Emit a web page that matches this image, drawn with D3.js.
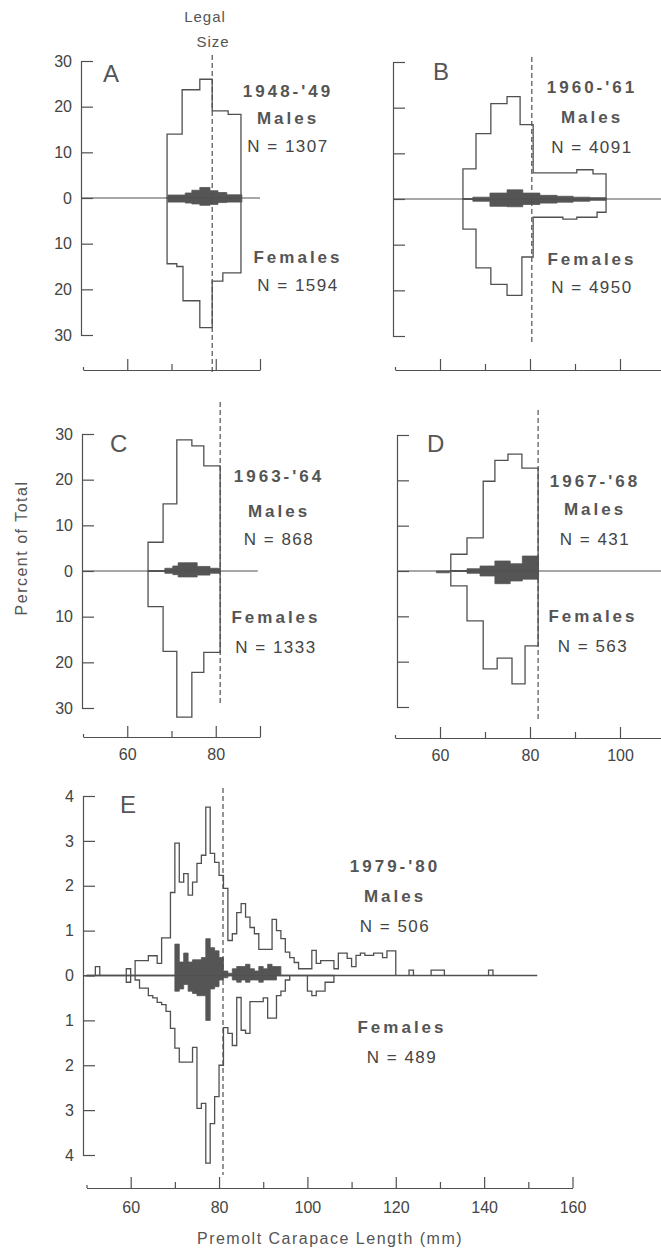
<!DOCTYPE html>
<html>
<head>
<meta charset="utf-8">
<script src="https://cdn.jsdelivr.net/npm/d3@7"></script>
<style>
  body { margin: 0; background: #fff; }
  text { font-family: "Liberation Sans", Arial, sans-serif; }
</style>
</head>
<body>
<svg id="chart" width="661" height="1259"></svg>
<script>
// percent of total per size class, males up / females down
// panel A 1948-49
const aMaleEdges = [69.0, 72.4, 76.4, 79.2, 82.8, 85.7]
const aMale = [14.0, 23.7, 26.0, 19.1, 18.3]
const aFemaleEdges = [69.0, 71.2, 72.6, 76.4, 79.2, 81.6, 85.7]
const aFemale = [14.4, 15.0, 22.5, 28.4, 18.2, 16.4]
const aShadeEdges = [69.2, 73.1, 74.6, 76.4, 78.7, 80.5, 82.5, 85.9]
const aShadeMale = [0.65, 1.1, 1.7, 2.3, 1.6, 1.2, 0.7]
const aShadeFemale = [0.9, 1.1, 1.3, 1.6, 1.4, 1.0, 0.9]

// panel B 1960-61
const bMaleEdges = [65.1, 68.0, 71.3, 74.9, 77.8, 80.7, 90.4, 94.0, 96.9]
const bMale = [6.6, 14.3, 20.9, 22.4, 16.3, 5.7, 6.4, 5.5]
const bFemaleEdges = [65.1, 68.0, 71.3, 74.9, 78.2, 80.7, 87.3, 90.4, 94.9, 96.9]
const bFemale = [6.6, 15.1, 18.7, 21.1, 12.7, 4.0, 4.4, 4.0, 2.9]
const bShadeEdges = [67.3, 71.1, 74.9, 78.4, 82.2, 86.0, 89.6, 93.3, 96.9]
const bShadeMale = [0.4, 1.3, 2.0, 1.3, 0.8, 0.6, 0.4, 0.3]
const bShadeFemale = [0.5, 1.6, 1.7, 1.2, 0.9, 0.7, 0.5, 0.3]

// panel C 1963-64
const cEdges = [64.7, 68.1, 71.2, 74.6, 77.3, 81.0]
const cMale = [6.3, 14.7, 28.7, 27.4, 23.0]
const cFemale = [7.8, 17.6, 32.0, 22.2, 17.8]
const cShadeEdges = [68.5, 70.3, 71.5, 75.8, 78.7, 81.0]
const cShadeMale = [0.6, 1.1, 1.8, 1.0, 0.6]
const cShadeFemale = [0.5, 0.8, 1.3, 0.9, 0.5]

// panel D 1967-68
const dMaleEdges = [62.4, 66.0, 69.6, 72.2, 75.1, 78.2, 81.8]
const dMale = [3.7, 7.3, 19.8, 24.4, 25.8, 22.7]
const dFemaleEdges = [62.4, 66.0, 69.6, 72.7, 76.0, 78.9, 81.8]
const dFemale = [3.3, 11.0, 21.6, 19.2, 24.9, 16.5]
const dShadeMaleEdges = [66.0, 68.9, 72.2, 75.6, 78.3, 81.9]
const dShadeMale = [0.5, 1.1, 2.2, 1.6, 3.3]
const dShadeFemaleEdges = [59.2, 62.1, 66.0, 68.9, 72.2, 75.6, 78.3, 81.9]
const dShadeFemale = [0.4, 0, 0.5, 1.1, 2.8, 2.2, 1.8]

// panel E 1979-80, 1 mm classes starting at 50 mm
const eMale = [
  0, 0, 0.2, 0, 0, 0, 0, 0, 0, 0.15,
  0, 0.33, 0.33, 0.33, 0.44, 0.44, 0.27, 0.84, 0.84, 1.85,
  2.95, 2.08, 2.27, 1.79, 2.08, 2.5, 2.68, 3.75, 2.72, 2.52,
  2.23, 1.94, 0.78, 0.93, 1.4, 1.6, 1.3, 1.07, 0.93, 0.58,
  0.58, 0.58, 1.25, 1.0, 0.82, 0.52, 0.4, 0.29, 0.15, 0.15,
  0.15, 0.56, 0.27, 0.33, 0.33, 0.33, 0.15, 0.5, 0.5, 0.38,
  0.2, 0.45, 0.5, 0.45, 0.45, 0.5, 0.5, 0.4, 0.55, 0.55,
  0, 0, 0, 0.12, 0, 0, 0, 0, 0.12, 0.12,
  0.12, 0, 0, 0, 0, 0, 0, 0, 0, 0,
  0, 0.12, 0, 0, 0, 0, 0, 0, 0, 0,
  0, 0
]
const eFemale = [
  0, 0, 0, 0, 0, 0, 0, 0, 0, 0.15,
  0, 0.1, 0.28, 0.28, 0.45, 0.5, 0.6, 0.65, 0.8, 1.18,
  1.62, 1.93, 1.93, 1.93, 1.6, 2.96, 2.85, 4.18, 3.3, 2.7,
  2.0, 1.16, 1.29, 1.56, 0.49, 1.22, 1.29, 0.58, 0.58, 0.58,
  0.5, 0.95, 0.95, 0.45, 0.35, 0.1, 0, 0, 0, 0,
  0.35, 0.45, 0.35, 0.35, 0.15, 0.15
]
// shaded classes starting at 70 mm
const eShadeMale = [0.7, 0.3, 0.5, 0.3, 0.35, 0.35, 0.4, 0.82, 0.62, 0.55, 0.4, 0.1, 0.05, 0.15, 0.2, 0.2, 0.25, 0.15, 0.1, 0.2, 0.15, 0.25, 0.2, 0.2]
const eShadeFemale = [0.35, 0.3, 0.2, 0.35, 0.4, 0.45, 0.45, 1.0, 0.3, 0.25, 0.1, 0.05, 0, 0.1, 0.15, 0.1, 0.15, 0.1, 0.1, 0.15, 0.1, 0.1, 0.1]

const seasons = ["1948-'49", "1960-'61", "1963-'64", "1967-'68", "1979-'80"]
const nMales = [1307, 4091, 868, 431, 506]
const nFemales = [1594, 4950, 1333, 563, 489]
const legalSize = [79.2, 80.4, 81.0, 81.8, 80.9]
const pctTicks = [-30, -20, -10, 0, 10, 20, 30]
const pctTicksE = [-4, -3, -2, -1, 0, 1, 2, 3, 4]

const classEdges = (start, n) => d3.range(start, start + n + 1)

const ink = '#505050'
const textInk = '#444'
const shade = '#555'

const panels = [
  {
    id: 'A', male: aMale, maleEdges: aMaleEdges, female: aFemale, femaleEdges: aFemaleEdges,
    shadeM: aShadeMale, shadeMEdges: aShadeEdges, shadeF: aShadeFemale, shadeFEdges: aShadeEdges,
    xd: [50, 90], xr: [83, 260], xTicks: [50, 60, 70, 80, 90], tall: [60, 80, 90], xLabels: [],
    yd: 30, yr: [61, 335], yTicks: pctTicks, yLabels: true, yAxisX: 81, axisY: 370, zeroEnd: 90,
    dash: [55, 373], letter: [103, 82], text: [288, 97, 124, 152, 298, 263, 291]
  },
  {
    id: 'B', male: bMale, maleEdges: bMaleEdges, female: bFemale, femaleEdges: bFemaleEdges,
    shadeM: bShadeMale, shadeMEdges: bShadeEdges, shadeF: bShadeFemale, shadeFEdges: bShadeEdges,
    xd: [50, 110], xr: [395, 665], xTicks: [50, 60, 70, 80, 90, 100, 110], tall: [60, 80, 100], xLabels: [],
    yd: 30, yr: [62, 336], yTicks: pctTicks, yLabels: false, yAxisX: 393, axisY: 370, zeroEnd: 110,
    dash: [57, 342], letter: [433, 80], text: [592, 93, 123, 153, 592, 265, 293]
  },
  {
    id: 'C', male: cMale, maleEdges: cEdges, female: cFemale, femaleEdges: cEdges,
    shadeM: cShadeMale, shadeMEdges: cShadeEdges, shadeF: cShadeFemale, shadeFEdges: cShadeEdges,
    xd: [50, 90], xr: [83, 260], xTicks: [50, 60, 70, 80, 90], tall: [60, 80, 90], xLabels: [60, 80],
    yd: 30, yr: [434, 708], yTicks: pctTicks, yLabels: true, yAxisX: 82, axisY: 737, zeroEnd: 89.5,
    dash: [402, 706], letter: [110, 452], text: [279, 482, 517, 545, 276, 623, 653]
  },
  {
    id: 'D', male: dMale, maleEdges: dMaleEdges, female: dFemale, femaleEdges: dFemaleEdges,
    shadeM: dShadeMale, shadeMEdges: dShadeMaleEdges, shadeF: dShadeFemale, shadeFEdges: dShadeFemaleEdges,
    xd: [50, 110], xr: [395, 665], xTicks: [50, 60, 70, 80, 90, 100, 110], tall: [60, 80, 100], xLabels: [60, 80, 100],
    yd: 30, yr: [435, 707], yTicks: pctTicks, yLabels: false, yAxisX: 397, axisY: 738, zeroEnd: 110,
    dash: [410, 722], letter: [427, 452], text: [595, 487, 515, 545, 593, 622, 652]
  },
  {
    id: 'E', male: eMale, maleEdges: classEdges(50, eMale.length), female: eFemale, femaleEdges: classEdges(50, eFemale.length),
    shadeM: eShadeMale, shadeMEdges: classEdges(70, eShadeMale.length), shadeF: eShadeFemale, shadeFEdges: classEdges(70, eShadeFemale.length),
    xd: [50, 160], xr: [86.5, 572.5], xTicks: d3.range(50, 161, 10), tall: [60, 80, 100, 120, 140, 160], xLabels: [60, 80, 100, 120, 140, 160],
    yd: 4, yr: [796, 1155], yTicks: pctTicksE, yLabels: true, yAxisX: 83, axisY: 1188, zeroEnd: 152,
    dash: [788, 1175], letter: [120, 813], text: [395, 872, 902, 932, 402, 1033, 1063]
  }
]

const svg = d3.select('#chart')
svg.append('rect').attr('width', 661).attr('height', 1259).attr('fill', '#fff')

const steps = (edges, values) =>
  values.map((v, i) => ({ mm: edges[i], v })).concat([{ mm: edges[values.length], v: values[values.length - 1] }])

panels.forEach((p, i) => {
  const x = d3.scaleLinear().domain(p.xd).range(p.xr)
  const y = d3.scaleLinear().domain([-p.yd, p.yd]).range([p.yr[1], p.yr[0]])
  const g = svg.append('g').attr('class', 'panel-' + p.id)

  const area = sign => d3.area()
    .curve(d3.curveStepAfter)
    .x(d => x(d.mm))
    .y0(y(0))
    .y1(d => y(sign * d.v))

  // open histograms
  g.append('path').datum(steps(p.maleEdges, p.male))
    .attr('d', area(1)).attr('fill', 'none').attr('stroke', ink).attr('stroke-width', 1.3)
  g.append('path').datum(steps(p.femaleEdges, p.female))
    .attr('d', area(-1)).attr('fill', 'none').attr('stroke', ink).attr('stroke-width', 1.3)

  // shaded histograms
  g.append('path').datum(steps(p.shadeMEdges, p.shadeM))
    .attr('d', area(1)).attr('fill', shade).attr('stroke', shade).attr('stroke-width', 0.8)
  g.append('path').datum(steps(p.shadeFEdges, p.shadeF))
    .attr('d', area(-1)).attr('fill', shade).attr('stroke', shade).attr('stroke-width', 0.8)

  // zero line
  g.append('line')
    .attr('x1', p.yAxisX).attr('x2', x(p.zeroEnd))
    .attr('y1', y(0)).attr('y2', y(0))
    .attr('stroke', ink).attr('stroke-width', 1.2)

  // y axis (bracket with ticks pointing right)
  const ya = g.append('g')
    .attr('transform', `translate(${p.yAxisX},0)`)
    .call(d3.axisLeft(y).tickValues(p.yTicks).tickSize(-12).tickSizeOuter(-12).tickPadding(9)
      .tickFormat(d => p.yLabels ? Math.abs(d) : ''))
  ya.selectAll('path, line').attr('stroke', ink).attr('stroke-width', 1.2)
  ya.selectAll('text').attr('fill', textInk).attr('font-size', 16)
    .attr('font-family', '"Liberation Sans", Arial, sans-serif')

  // x axis
  const xa = g.append('g')
    .attr('transform', `translate(0,${p.axisY})`)
    .call(d3.axisBottom(x).tickValues(p.xTicks).tickSize(-11).tickSizeOuter(0)
      .tickPadding(p.id === 'E' ? 14 : 12)
      .tickFormat(d => p.xLabels.includes(d) ? d : ''))
  xa.selectAll('.tick line').attr('y2', d => d === 50 ? -3 : p.tall.includes(d) ? -11 : -6)
  xa.selectAll('path, line').attr('stroke', ink).attr('stroke-width', 1.2)
  xa.selectAll('text').attr('fill', textInk).attr('font-size', 16)
    .attr('font-family', '"Liberation Sans", Arial, sans-serif')

  // legal size
  g.append('line')
    .attr('x1', x(legalSize[i])).attr('x2', x(legalSize[i]))
    .attr('y1', p.dash[0]).attr('y2', p.dash[1])
    .attr('stroke', ink).attr('stroke-width', 1.2).attr('stroke-dasharray', '5,3')

  // panel letter
  g.append('text').attr('x', p.letter[0]).attr('y', p.letter[1])
    .attr('font-size', 24).attr('fill', '#555').text(p.id)

  // season / counts
  const t = p.text
  const lab = (cx, cy, str, bold, ls) => g.append('text')
    .attr('x', cx).attr('y', cy).attr('text-anchor', 'middle')
    .attr('font-size', 17).attr('font-weight', bold ? 'bold' : 'normal')
    .attr('letter-spacing', ls).attr('fill', bold ? '#555' : textInk).text(str)
  lab(t[0], t[1], seasons[i], true, 3)
  lab(t[0], t[2], 'Males', true, 3)
  lab(t[0], t[3], 'N = ' + nMales[i], false, 1.5)
  lab(t[4], t[5], 'Females', true, 3)
  lab(t[4], t[6], 'N = ' + nFemales[i], false, 1.5)
})

// header and axis titles
svg.append('text').attr('x', 205).attr('y', 22).attr('text-anchor', 'middle')
  .attr('font-size', 15).attr('fill', '#555').attr('letter-spacing', 1).text('Legal')
svg.append('text').attr('x', 213).attr('y', 47).attr('text-anchor', 'middle')
  .attr('font-size', 15).attr('fill', '#555').attr('letter-spacing', 1).text('Size')

svg.append('text')
  .attr('transform', 'translate(27,548) rotate(-90)')
  .attr('text-anchor', 'middle').attr('font-size', 16).attr('letter-spacing', 1.5)
  .attr('fill', '#555').text('Percent of Total')

svg.append('text').attr('x', 330).attr('y', 1244).attr('text-anchor', 'middle')
  .attr('font-size', 16).attr('letter-spacing', 1.5).attr('fill', '#555')
  .text('Premolt Carapace Length (mm)')
</script>
</body>
</html>
